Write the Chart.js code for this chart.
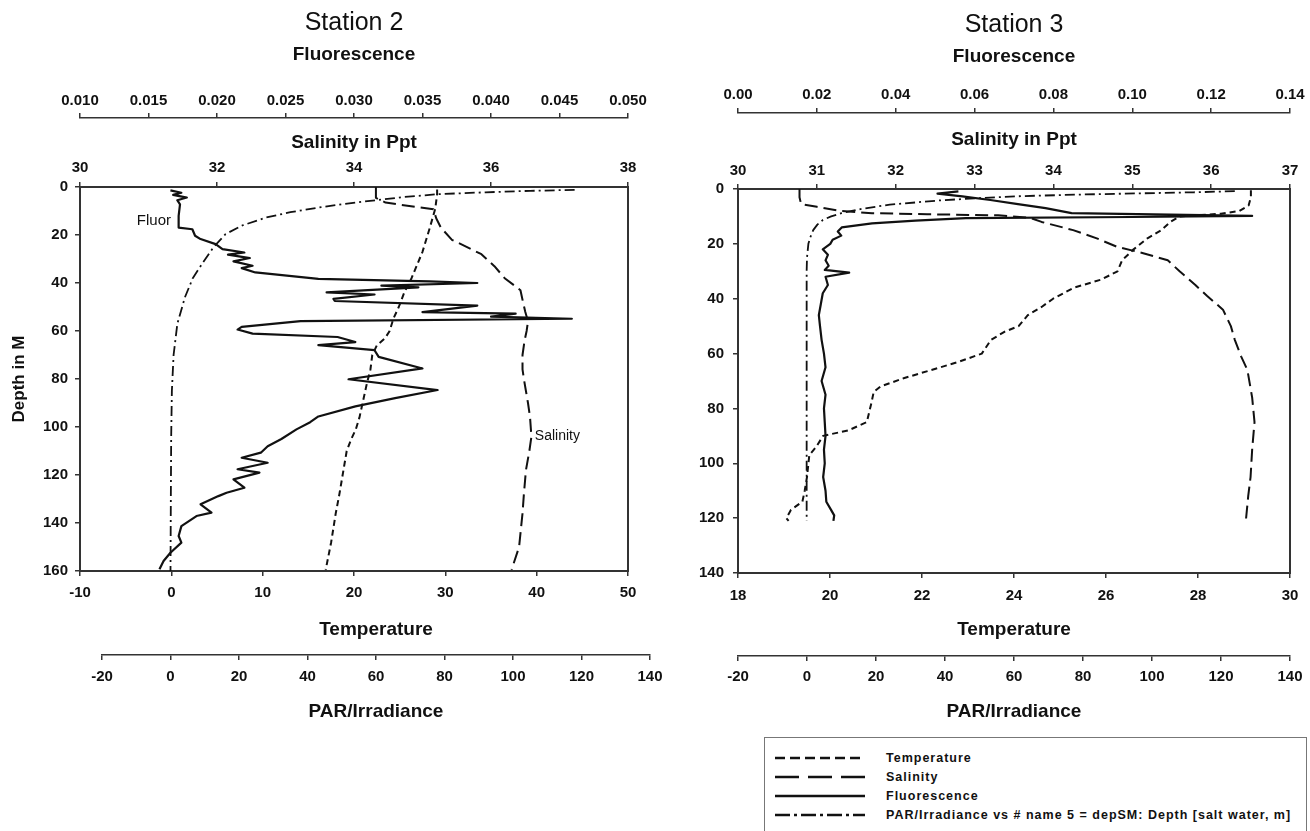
<!DOCTYPE html>
<html>
<head>
<meta charset="utf-8">
<title>Station 2 / Station 3 profiles</title>
<script src="https://cdn.jsdelivr.net/npm/chart.js@4.4.1/dist/chart.umd.min.js"></script>
<style>
  body { margin: 0; background: #fff; width: 1310px; height: 831px; overflow: hidden; position: relative; }
  #st2 { position: absolute; left: 0; top: 0; }
  #st3 { position: absolute; left: 660px; top: 0; }
  .legend { position: absolute; left: 764px; top: 737px; width: 543px; height: 110px; border: 1px solid #777; box-sizing: border-box; padding-top: 10px; }
  .legend div { height: 19px; display: flex; align-items: center; font: bold 12.5px "Liberation Sans", Arial, sans-serif; letter-spacing: 1px; color: #111; }
  .legend svg { margin-left: 10px; margin-right: 21px; }
</style>
</head>
<body>
<canvas id="st2" width="675" height="735"></canvas>
<canvas id="st3" width="650" height="735"></canvas>

<div class="legend">
  <div><svg width="90" height="6"><line x1="0" y1="3" x2="90" y2="3" stroke="#111" stroke-width="2.5" stroke-dasharray="10 5"/></svg>Temperature</div>
  <div><svg width="90" height="6"><line x1="0" y1="3" x2="90" y2="3" stroke="#111" stroke-width="2.5" stroke-dasharray="24 9"/></svg>Salinity</div>
  <div><svg width="90" height="6"><line x1="0" y1="3" x2="90" y2="3" stroke="#111" stroke-width="2.5"/></svg>Fluorescence</div>
  <div><svg width="90" height="6"><line x1="0" y1="3" x2="90" y2="3" stroke="#111" stroke-width="2.5" stroke-dasharray="15 4 3 4"/></svg>PAR/Irradiance vs # name 5 = depSM: Depth [salt water, m]</div>
</div>

<script>
// ---- Station 2 (depth in m) ----
const s2TempDepth = [1, 3, 9, 17, 27, 38, 44, 50, 55, 60, 63, 66, 70, 76, 82, 89, 96, 101, 105, 110, 119, 128, 136, 148, 159.5];
const s2Temp = [29.1, 29.1, 28.9, 28.3, 27.5, 26.3, 25.5, 24.9, 24.3, 23.9, 23.4, 22.5, 22.0, 21.8, 21.4, 21.0, 20.6, 20.2, 19.7, 19.2, 18.8, 18.4, 18.0, 17.5, 16.9];

const s2SalDepth = [0, 4.5, 6.5, 9.3, 13, 17, 22, 28, 33, 38, 43, 47, 52, 56, 60, 64, 70, 76, 80, 85, 90, 96, 104, 110, 118, 128, 136, 150, 159.5];
const s2Sal = [34.32, 34.32, 34.46, 35.16, 35.2, 35.27, 35.43, 35.86, 36.05, 36.2, 36.43, 36.46, 36.5, 36.54, 36.52, 36.49, 36.46, 36.46, 36.48, 36.51, 36.54, 36.57, 36.59, 36.56, 36.51, 36.48, 36.46, 36.41, 36.3];

const s2FluorDepth = [1.4, 2.4, 3.3, 4.4, 5.5, 7.2, 12, 16.9, 17.6, 20.3,
  21.7, 23.8, 25.9, 27.3, 28.2, 29.6, 31.0, 32.8, 33.8, 35.6,
  38.3, 39.3, 40.0, 41.1, 41.8, 43.9, 44.8, 46.6, 47.5, 49.4,
  52.1, 52.8, 54.0, 54.9, 55.9, 58.3, 59.4, 61.1, 62.5, 64.6,
  65.9, 68.0, 70.8, 75.6, 80.1, 84.6, 88, 91.4, 95.6, 98,
  101, 105, 108, 110.7, 112.8, 114.9, 117.6, 119, 121.8, 125.3,
  127.4, 128.8, 132.2, 135.7, 137.1, 141.3, 145.4, 148.2, 152.4, 155.8, 159.3];
const s2Fluor = [.0166, .0174, .0168, .0178, .0171, .0173, .0172, .0172, .0182, .0184,
  .0188, .0199, .0204, .0220, .0208, .0224, .0212, .0226, .0218, .0228,
  .0274, .0355, .0390, .0320, .0347, .0280, .0315, .0285, .0286, .0390,
  .0350, .0418, .0400, .0459, .0261, .0218, .0215, .0226, .0288, .0301,
  .0274, .0315, .0318, .0350, .0296, .0361, .0330, .0301, .0274, .0268,
  .0258, .0247, .0237, .0232, .0218, .0237, .0215, .0231, .0212, .0220,
  .0207, .0201, .0188, .0196, .0185, .0174, .0172, .0174, .0166, .0161, .0158];

const s2ParDepth = [1.2, 1.6, 2.2, 3.0, 4.2, 5.5, 7, 8.6, 10.5, 12.7, 16, 19.7, 25.2, 31.4, 38, 46, 57, 70, 85, 104, 130, 160];
const s2Par = [118, 105, 92, 78, 68, 60, 51, 43, 35, 28, 21, 16, 12.5, 9.5, 6.5, 4.2, 2.0, 0.9, 0.4, 0.2, 0.1, 0];

// ---- Station 3 ----
const s3TempDepth = [0.5, 3, 6, 8, 9, 10, 12, 15, 18, 22, 26, 30, 33, 36, 40, 43, 46, 50, 52, 55,
  60, 63, 66, 69, 72, 74, 78, 85, 88, 90, 94, 97, 105, 110, 114, 117, 120, 121];
const s3Temp = [29.15, 29.15, 29.1, 28.9, 28.5, 27.6, 27.4, 27.2, 26.9, 26.6, 26.35, 26.25, 25.9, 25.3, 24.85, 24.6, 24.3, 24.1, 23.8, 23.5,
  23.3, 22.8, 22.2, 21.6, 21.1, 20.95, 20.9, 20.8, 20.4, 19.85, 19.7, 19.55, 19.5, 19.45, 19.4, 19.15, 19.05, 19.1];

const s3SalDepth = [0, 3, 5.5, 6.5, 8, 8.8, 9.2, 9.6, 10.5, 12, 15, 18, 21, 23.5, 26, 30, 35, 39, 44, 50, 55, 61, 66, 76, 85, 95, 105, 112, 121];
const s3Sal = [30.78, 30.78, 30.8, 31.0, 31.3, 31.7, 32.4, 33.3, 33.7, 33.85, 34.25, 34.55, 34.8, 35.15, 35.45, 35.6, 35.8, 35.95, 36.15, 36.25, 36.3, 36.38, 36.46, 36.52, 36.55, 36.52, 36.5, 36.47, 36.44];

const s3FluorDepth = [0.9, 1.7, 2.7, 4, 5.5, 7, 8.8, 9.8, 10.2, 10.6,
  11.5, 12.5, 14, 15.5, 17, 18.5, 20, 22, 24, 26,
  28, 29.5, 30.5, 32, 35, 38, 42, 46, 50, 55,
  60, 65, 70, 75, 80, 85, 90, 95, 100, 105,
  110, 114, 117, 119, 121];
const s3Fluor = [.0559, .0506, .0569, .064, .071, .078, .0846, .1304, .1, .0578,
  .045, .034, .0263, .0253, .0262, .0240, .0234, .0215, .0228, .0222,
  .0230, .0220, .0282, .0222, .0228, .0215, .0210, .0205, .0208, .0212,
  .0218, .0222, .0212, .0222, .0218, .0220, .0222, .0218, .0220, .0216,
  .0222, .0224, .0236, .0244, .0242];

const s3ParDepth = [0.8, 1.2, 1.6, 2.0, 2.6, 3.3, 4.2, 5.7, 7.2, 8.8, 10, 11.3, 13, 15, 17.5, 20, 25, 30, 40, 60, 80, 100, 110, 121];
const s3Par = [124, 112, 96, 80, 62, 50, 38, 24, 16, 10, 7, 4.6, 3, 1.8, 1, 0.4, 0, -0.1, -0.1, -0.1, -0.1, -0.1, -0.1, -0.1];

const FONT = '"Liberation Sans", Arial, sans-serif';
const INK = '#111';
Chart.defaults.font.family = FONT;
Chart.defaults.color = INK;

const tickFont = { size: 15, weight: 'bold' };
const titleFont = { size: 19, weight: 'bold' };

function profile(depths, values, axis, dash, width) {
  return {
    data: depths.map((d, i) => ({ x: values[i], y: d })),
    xAxisID: axis, yAxisID: 'y',
    showLine: true, pointRadius: 0, tension: 0,
    borderColor: INK, borderWidth: width, borderDash: dash,
    borderJoinStyle: 'round'
  };
}

function xAxis(position, weight, min, max, step, digits, title, tickPad, titlePad, height, border) {
  return {
    type: 'linear', position: position, weight: weight, min: min, max: max,
    afterFit: s => { s.height = height; },
    border: { display: true, color: '#333', width: border },
    grid: { display: true, drawOnChartArea: false, drawTicks: true, tickLength: 5, color: '#333', lineWidth: 1.5 },
    ticks: { stepSize: step, autoSkip: false, maxRotation: 0, padding: tickPad, font: tickFont, color: INK,
             callback: v => v.toFixed(digits) },
    title: { display: true, text: title, font: titleFont, color: INK, padding: titlePad }
  };
}

function depthAxis(max, width, pad, title) {
  return {
    type: 'linear', position: 'left', reverse: true, min: 0, max: max,
    afterFit: s => { s.width = width; },
    border: { display: true, color: '#333', width: 2 },
    grid: { display: true, drawOnChartArea: false, tickLength: 5, color: '#333', lineWidth: 1.5 },
    ticks: { stepSize: 20, autoSkip: false, padding: pad, font: tickFont, color: INK },
    title: { display: !!title, text: title || '', font: { size: 17, weight: 'bold' }, color: INK, padding: { top: 8.8, bottom: 0 } }
  };
}

function frameAxis(width) {
  // plain right-hand edge of the plot box
  return {
    type: 'linear', position: 'right', min: 0, max: 1,
    afterFit: s => { s.width = width; },
    border: { display: true, color: '#333', width: 2 },
    grid: { display: false }, ticks: { display: false }
  };
}

// station 2's PAR axis (and the Temperature caption) sit a little to the right of the plot
function makeNudge(dx) {
  return {
    id: 'nudge',
    afterLayout(chart) {
      if (!dx) return;
      const par = chart.scales.par;
      par.left += dx; par.right += dx;
      par.configure();
      const t = chart.scales.temp;
      if (!t._plainTitle) t._plainTitle = t.drawTitle;
      t.drawTitle = function () {
        this.left += dx; this.right += dx;
        this._plainTitle();
        this.left -= dx; this.right -= dx;
      };
    }
  };
}

function makeNotes(items) {
  return {
    id: 'notes',
    afterDatasetsDraw(chart) {
      const ctx = chart.ctx;
      ctx.save();
      ctx.fillStyle = INK;
      ctx.textBaseline = 'middle';
      items.forEach(n => {
        ctx.font = n.font;
        ctx.textAlign = n.align;
        ctx.fillText(n.text, chart.scales[n.axis].getPixelForValue(n.x), chart.scales.y.getPixelForValue(n.y));
      });
      ctx.restore();
    }
  };
}

function stationTitle(text, top) {
  return { display: true, text: text, fullSize: false, font: { size: 25, weight: 'normal' }, color: INK, padding: { top: top, bottom: 0 } };
}

new Chart(document.getElementById('st2'), {
  type: 'scatter',
  data: { datasets: [
    profile(s2TempDepth, s2Temp, 'temp', [6, 4], 2),
    profile(s2SalDepth, s2Sal, 'sal', [13, 6], 2),
    profile(s2FluorDepth, s2Fluor, 'fluor', [], 2.2),
    profile(s2ParDepth, s2Par, 'par', [10, 4, 2, 4], 1.8)
  ]},
  options: {
    responsive: false, animation: false, events: [],
    layout: { padding: { bottom: 10 } },
    plugins: {
      legend: { display: false }, tooltip: { enabled: false },
      title: stationTitle('Station 2', 8.3)
    },
    scales: {
      y: depthAxis(160, 80, 7, 'Depth in M'),
      yr: frameAxis(47),
      sal: xAxis('top', 0, 30, 38, 2, 0, 'Salinity in Ppt', 5, { top: 13.6, bottom: 0 }, 69, 2),
      fluor: xAxis('top', 1, 0.01, 0.05, 0.005, 3, 'Fluorescence', 3, { top: 5.3, bottom: 0 }, 79.7, 1.5),
      temp: xAxis('bottom', 0, -10, 50, 10, 0, 'Temperature', 8, { top: 0, bottom: 13.6 }, 84, 2),
      par: xAxis('bottom', 1, -20, 140, 20, 0, 'PAR/Irradiance', 8, { top: 0, bottom: 1.6 }, 70, 1.5)
    }
  },
  plugins: [makeNudge(22), makeNotes([
    { text: 'Fluor', axis: 'fluor', x: 0.01664, y: 14.2, align: 'right', font: '15px ' + FONT },
    { text: 'Salinity', axis: 'sal', x: 36.64, y: 104, align: 'left', font: '14px ' + FONT }
  ])]
});

new Chart(document.getElementById('st3'), {
  type: 'scatter',
  data: { datasets: [
    profile(s3TempDepth, s3Temp, 'temp', [6, 4], 2),
    profile(s3SalDepth, s3Sal, 'sal', [13, 6], 2),
    profile(s3FluorDepth, s3Fluor, 'fluor', [], 2.2),
    profile(s3ParDepth, s3Par, 'par', [10, 4, 2, 4], 1.8)
  ]},
  options: {
    responsive: false, animation: false, events: [],
    layout: { padding: { bottom: 9 } },
    plugins: {
      legend: { display: false }, tooltip: { enabled: false },
      title: stationTitle('Station 3', 10)
    },
    scales: {
      y: depthAxis(140, 78, 9, ''),
      yr: frameAxis(20),
      sal: xAxis('top', 0, 30, 37, 1, 0, 'Salinity in Ppt', 4, { top: 15.6, bottom: 0 }, 76, 2),
      fluor: xAxis('top', 1, 0, 0.14, 0.02, 2, 'Fluorescence', 4, { top: 5.6, bottom: 0 }, 73, 1.5),
      temp: xAxis('bottom', 0, 18, 30, 2, 0, 'Temperature', 9, { top: 0, bottom: 14.6 }, 83, 2),
      par: xAxis('bottom', 1, -20, 140, 20, 0, 'PAR/Irradiance', 7, { top: 0, bottom: 2.6 }, 70, 1.5)
    }
  }
});
</script>
</body>
</html>
